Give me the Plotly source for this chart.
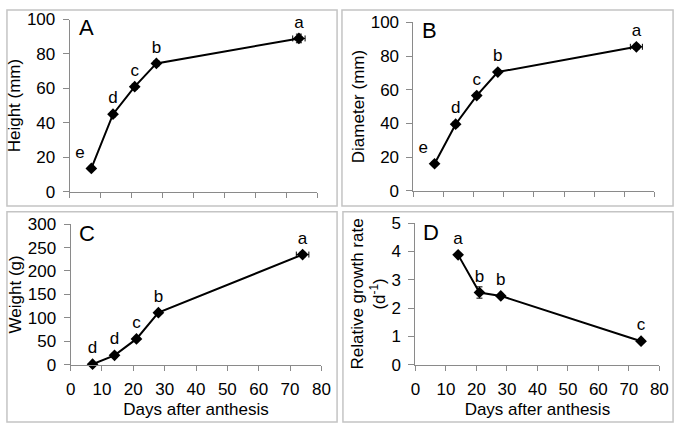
import plotly.graph_objects as go

# ---- data ----
days_A = [7, 14, 21, 28, 74]
height = [13.5, 45, 61, 74.5, 89]
height_err = [1, 1.5, 1.5, 1.5, 2.5]
letters_A = ["e", "d", "c", "b", "a"]

days_B = [7, 14, 21, 28, 74]
diameter = [16, 39.5, 56.5, 70.5, 85.5]
diameter_err = [1, 1.5, 1.5, 1, 1.5]
letters_B = ["e", "d", "c", "b", "a"]

days_C = [7, 14, 21, 28, 74]
weight = [1, 20, 55, 111, 235]
weight_err = [0.5, 2, 3, 3, 5]
letters_C = ["d", "d", "c", "b", "a"]

days_D = [14, 21, 28, 74]
rgr = [3.88, 2.55, 2.43, 0.83]
rgr_err = [0.05, 0.2, 0.05, 0.05]
letters_D = ["a", "b", "b", "c"]

days_err_x = [0, 0, 0, 0, 2]
days_err_x_D = [0, 0, 0, 0]

x_ticks = [0, 10, 20, 30, 40, 50, 60, 70, 80]

FONT = "Liberation Sans, Arial, sans-serif"
AXC = "#8a8a8a"
FS = 17

fig = go.Figure()

def add_series(x, y, ey, ex, letters, positions, xa, ya):
    fig.add_trace(go.Scatter(
        x=x, y=y, xaxis=xa, yaxis=ya,
        mode="lines+markers+text",
        line=dict(color="black", width=2),
        marker=dict(symbol="diamond", size=9, color="black"),
        error_y=dict(type="data", array=ey, color="black", thickness=1, width=3),
        error_x=dict(type="data", array=ex, color="black", thickness=1, width=3),
        text=letters, textposition=positions,
        textfont=dict(family=FONT, size=FS, color="black"),
        showlegend=False, cliponaxis=False, hoverinfo="skip",
    ))

pos5 = ["top left", "top center", "top center", "top center", "top center"]
add_series(days_A, height, height_err, days_err_x, letters_A, pos5, "x", "y")
add_series(days_B, diameter, diameter_err, days_err_x, letters_B, pos5, "x2", "y2")
add_series(days_C, weight, weight_err, days_err_x, letters_C,
           ["top center"] * 5, "x3", "y3")
add_series(days_D, rgr, rgr_err, days_err_x_D, letters_D,
           ["top center"] * 4, "x4", "y4")

def xaxis(domain, anchor, show_labels, title=None):
    d = dict(
        domain=domain, anchor=anchor, range=[0, 80], tickvals=x_ticks,
        showticklabels=show_labels, showgrid=False, zeroline=False,
        showline=True, linecolor=AXC, linewidth=1,
        ticks="outside", ticklen=5, tickcolor=AXC, ticklabelstandoff=4,
        tickfont=dict(family=FONT, size=FS, color="black"),
    )
    if title:
        d["title"] = dict(text=title, font=dict(family=FONT, size=FS, color="black"), standoff=5)
    return d

def yaxis(domain, anchor, rng, dtick, title, standoff=1):
    return dict(
        domain=domain, anchor=anchor, range=rng, dtick=dtick,
        showgrid=False, zeroline=False,
        showline=True, linecolor=AXC, linewidth=1,
        ticks="outside", ticklen=6, tickcolor=AXC, ticklabelstandoff=4,
        tickfont=dict(family=FONT, size=FS, color="black"),
        title=dict(text=title, font=dict(family=FONT, size=FS, color="black"), standoff=standoff),
    )

W, H = 685, 433
def dx(a, b):
    return [a / W, b / W]
def dy(top, bottom):
    return [1 - bottom / H, 1 - top / H]

fig.update_layout(
    width=W, height=H,
    margin=dict(l=0, r=0, t=0, b=0),
    paper_bgcolor="white", plot_bgcolor="white",
    font=dict(family=FONT, color="black"),
    hovermode=False,
    xaxis=xaxis(dx(66, 319), "y", False),
    yaxis=yaxis(dy(11, 191), "x", [0, 100], 20, "Height (mm)"),
    xaxis2=xaxis(dx(417, 663), "y2", False),
    yaxis2=yaxis(dy(14, 190), "x2", [0, 100], 20, "Diameter (mm)"),
    xaxis3=xaxis(dx(67, 323), "y3", True, "Days after anthesis"),
    yaxis3=yaxis(dy(225, 372), "x3", [0, 300], 50, "Weight (g)"),
    xaxis4=xaxis(dx(419, 668), "y4", True, "Days after anthesis"),
    yaxis4=yaxis(dy(224, 372), "x4", [0, 5], 1, "Relative growth rate<br>(d<sup>-1</sup>)", standoff=1),
)

# panel frames
for (x0, y0, x1, y1) in [(2, 1, 339, 206), (344, 1, 682, 206),
                         (2, 212, 339, 432), (345, 212, 682, 432)]:
    fig.add_shape(type="rect", xref="paper", yref="paper",
                  x0=x0 / W, x1=x1 / W, y0=1 - y1 / H, y1=1 - y0 / H,
                  line=dict(color="#c4c4c4", width=1.5), fillcolor="rgba(0,0,0,0)",
                  layer="below")

# panel letters
for lab, xr, yr, xoff in [("A", "x", "y", 0.03), ("B", "x2", "y2", 0.025),
                          ("C", "x3", "y3", 0.027), ("D", "x4", "y4", 0.024)]:
    fig.add_annotation(text=lab, xref=xr + " domain", yref=yr + " domain",
                       x=xoff, y=1.04, xanchor="left", yanchor="top", showarrow=False,
                       font=dict(family=FONT, size=22, color="black"))

fig.write_html(
    "out.html",
    config={"displayModeBar": False},
    post_script="document.body.style.margin='0px';",
)
